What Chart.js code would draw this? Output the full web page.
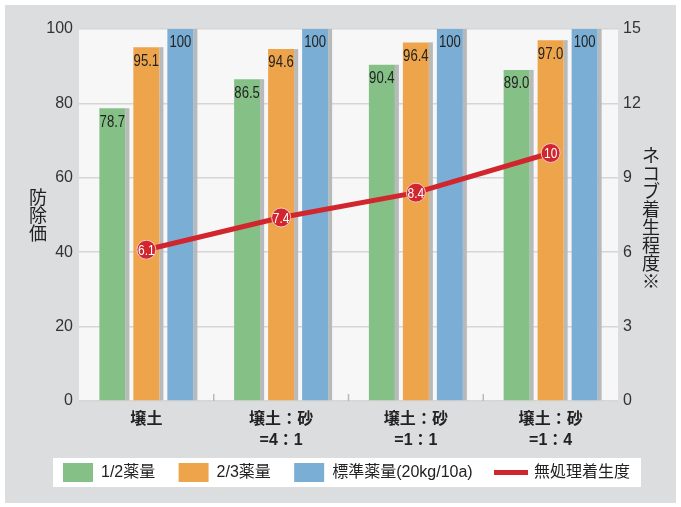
<!DOCTYPE html>
<html>
<head>
<meta charset="utf-8">
<script src="https://cdn.jsdelivr.net/npm/chart.js@4.4.1/dist/chart.umd.min.js"></script>
<style>
  html, body { margin: 0; padding: 0; background: #fff; }
</style>
</head>
<body>
<canvas id="grafico" width="681" height="507"></canvas>
<script>
// Data
const categories = ['壌土', ['壌土：砂', '=4：1'], ['壌土：砂', '=1：1'], ['壌土：砂', '=1：4']];
const seriesNames = ['1/2薬量', '2/3薬量', '標準薬量(20kg/10a)', '無処理着生度'];
const halfDose = [78.7, 86.5, 90.4, 89.0];
const twoThirdsDose = [95.1, 94.6, 96.4, 97.0];
const standardDose = [100, 100, 100, 100];
const untreated = [6.1, 7.4, 8.4, 10];
const leftTicks = [0, 20, 40, 60, 80, 100];
const rightTicks = [0, 3, 6, 9, 12, 15];
const leftTitle = '防除価';
const rightTitle = 'ネコブ着生程度※';

const fontFamily = "'Liberation Sans', 'Noto Sans CJK JP', sans-serif";
const textColor = '#222';
const red = '#d1262e';

Chart.defaults.font.family = fontFamily;
Chart.defaults.color = textColor;

// condensed text, the picture uses a narrow face for the value labels
function narrowText(ctx, txt, x, y, squeeze) {
    ctx.save();
    ctx.translate(x, y);
    ctx.scale(squeeze, 1);
    ctx.fillText(txt, 0, 0);
    ctx.restore();
}

// draws backgrounds, bar shadows, labels and the vertical titles
const decorPlugin = {
    id: 'decor',
    beforeDraw(chart) {
        const ctx = chart.ctx;
        const area = chart.chartArea;
        ctx.save();
        ctx.fillStyle = '#fff';
        ctx.fillRect(0, 0, chart.width, chart.height);
        ctx.fillStyle = '#dcdddf';
        ctx.fillRect(5, 5, chart.width - 10, chart.height - 9);
        ctx.fillStyle = '#f7f7f7';
        ctx.fillRect(area.left, area.top, area.right - area.left, area.bottom - area.top);

        // white box behind the legend
        const legend = chart.legend;
        const boxes = legend && legend.legendHitBoxes;
        if (boxes && boxes.length) {
            const first = boxes[0];
            const last = boxes[boxes.length - 1];
            const lastItem = legend.legendItems[legend.legendItems.length - 1];
            ctx.font = '16px ' + fontFamily;
            const textW = ctx.measureText(lastItem.text).width;
            const left = first.left - 10;
            const right = last.left + legend.options.labels.boxWidth + 8 + textW + 11;
            ctx.fillStyle = '#fff';
            ctx.fillRect(left, first.top - 5, right - left, first.height + 10);
        }
        ctx.restore();
    },
    beforeDatasetsDraw(chart) {
        const ctx = chart.ctx;
        const area = chart.chartArea;
        ctx.save();
        // gray shadow on the right of each bar
        ctx.fillStyle = '#b7b9bb';
        chart.data.datasets.forEach((ds, i) => {
            if (ds.type !== 'bar') return;
            chart.getDatasetMeta(i).data.forEach(bar => {
                const p = bar.getProps(['x', 'y', 'base', 'width'], true);
                ctx.fillRect(p.x + p.width / 2, p.y, 4, p.base - p.y);
            });
        });
        // small separators between categories
        const xs = chart.scales.x;
        ctx.fillStyle = '#b9b9b9';
        for (let i = 0; i < categories.length - 1; i++) {
            const px = (xs.getPixelForValue(i) + xs.getPixelForValue(i + 1)) / 2;
            ctx.fillRect(px - 0.75, area.bottom - 7, 1.5, 7);
        }
        ctx.restore();
    },
    afterDatasetsDraw(chart) {
        const ctx = chart.ctx;
        ctx.save();
        ctx.textAlign = 'center';
        ctx.textBaseline = 'top';
        ctx.font = '16px ' + fontFamily;
        ctx.fillStyle = textColor;
        chart.data.datasets.forEach((ds, i) => {
            const meta = chart.getDatasetMeta(i);
            if (ds.type === 'bar') {
                meta.data.forEach((bar, j) => {
                    const v = ds.data[j];
                    const txt = v === 100 ? '100' : v.toFixed(1);
                    narrowText(ctx, txt, bar.x, bar.y + 6, 0.82);
                });
            }
        });
        // labels inside the line points
        ctx.fillStyle = '#fff';
        ctx.textBaseline = 'middle';
        ctx.font = '15px ' + fontFamily;
        chart.data.datasets.forEach((ds, i) => {
            if (ds.type !== 'line') return;
            chart.getDatasetMeta(i).data.forEach((pt, j) => {
                narrowText(ctx, String(ds.data[j]), pt.x, pt.y + 1, 0.8);
            });
        });
        ctx.restore();
    },
    afterDraw(chart) {
        const ctx = chart.ctx;
        const area = chart.chartArea;
        ctx.save();
        ctx.fillStyle = textColor;
        ctx.textAlign = 'center';
        ctx.textBaseline = 'middle';
        ctx.font = '18px ' + fontFamily;
        const step = 18;
        const midY = (area.top + area.bottom) / 2;
        // left title, characters stacked
        let x = chart.scales.y.left + 26;
        let y = midY + 2 - (leftTitle.length - 1) * step / 2;
        for (const ch of leftTitle) { ctx.fillText(ch, x, y); y += step; }
        // right title
        x = chart.scales.y2.left + 33;
        y = midY + 5 - (rightTitle.length - 1) * step / 2;
        for (const ch of rightTitle) { ctx.fillText(ch, x, y); y += step; }
        ctx.restore();
    }
};

const ctx = document.getElementById('grafico').getContext('2d');

new Chart(ctx, {
    data: {
        labels: categories,
        datasets: [
            { type: 'bar', label: seriesNames[0], data: halfDose, backgroundColor: '#85c187', yAxisID: 'y', order: 1 },
            { type: 'bar', label: seriesNames[1], data: twoThirdsDose, backgroundColor: '#eda44b', yAxisID: 'y', order: 1 },
            { type: 'bar', label: seriesNames[2], data: standardDose, backgroundColor: '#7baed5', yAxisID: 'y', order: 1 },
            {
                type: 'line', label: seriesNames[3], data: untreated, yAxisID: 'y2', order: 0,
                borderColor: red, backgroundColor: red, borderWidth: 5, tension: 0,
                pointRadius: 9.5, pointBackgroundColor: red, pointBorderColor: '#f3c9cb', pointBorderWidth: 1
            }
        ]
    },
    options: {
        responsive: false,
        animation: false,
        devicePixelRatio: 1,
        // extra left padding also moves the centred legend to the right
        layout: { padding: { top: 29, bottom: 15, left: 12, right: 0 } },
        datasets: {
            bar: { categoryPercentage: 0.757, barPercentage: 0.765 }
        },
        plugins: {
            tooltip: { enabled: false },
            legend: {
                position: 'bottom',
                labels: {
                    boxWidth: 30,
                    boxHeight: 19,
                    padding: 10,
                    color: textColor,
                    font: { size: 16 },
                    sort: (a, b) => a.datasetIndex - b.datasetIndex,
                    generateLabels(chart) {
                        const items = Chart.defaults.plugins.legend.labels.generateLabels(chart);
                        const lastIndex = chart.data.datasets.length - 1;
                        items.forEach(item => {
                            item.lineWidth = 0;
                            item.strokeStyle = 'rgba(0,0,0,0)';
                            // wider gap between entries
                            if (item.datasetIndex < lastIndex) item.text += '   ';
                            if (chart.data.datasets[item.datasetIndex].type === 'line') {
                                item.fillStyle = 'rgba(0,0,0,0)';
                            }
                        });
                        return items;
                    }
                }
            }
        },
        scales: {
            x: {
                offset: true,
                grid: { display: false },
                border: { display: false },
                ticks: { color: textColor, font: { size: 16, weight: 'bold', lineHeight: 1.3 }, padding: 0, maxRotation: 0 },
                afterFit(scale) { scale.height = 52; }
            },
            y: {
                position: 'left',
                min: leftTicks[0],
                max: leftTicks[leftTicks.length - 1],
                grid: { color: '#d6d6d6', lineWidth: 1.5, drawTicks: false },
                border: { display: false },
                ticks: { stepSize: leftTicks[1] - leftTicks[0], color: '#333', font: { size: 16 }, padding: 6 },
                afterFit(scale) { scale.width = 67; }
            },
            y2: {
                position: 'right',
                min: rightTicks[0],
                max: rightTicks[rightTicks.length - 1],
                grid: { display: false, drawTicks: false },
                border: { display: false },
                ticks: { stepSize: rightTicks[1] - rightTicks[0], color: '#333', font: { size: 16 }, padding: 5 },
                afterFit(scale) { scale.width = 63; }
            }
        }
    },
    plugins: [decorPlugin, {
        // red line for the legend entry of the line series
        id: 'legendLine',
        afterDraw(chart) {
            const boxes = chart.legend.legendHitBoxes;
            const c = chart.ctx;
            chart.legend.legendItems.forEach((item, i) => {
                if (chart.data.datasets[item.datasetIndex].type !== 'line') return;
                const b = boxes[i];
                c.save();
                c.fillStyle = red;
                c.fillRect(b.left - 2, b.top + b.height / 2 - 2.5, 34, 5);
                c.restore();
            });
        }
    }]
});
</script>
</body>
</html>
